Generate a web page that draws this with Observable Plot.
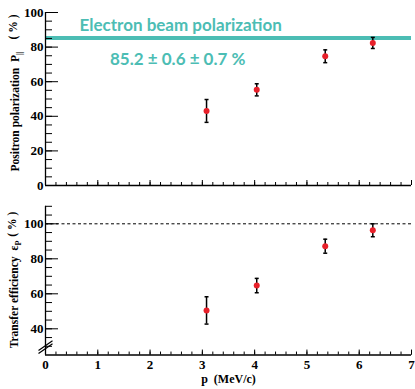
<!DOCTYPE html>
<html><head><meta charset="utf-8">
<script src="https://cdn.jsdelivr.net/npm/d3@7"></script>
<script src="https://cdn.jsdelivr.net/npm/@observablehq/plot@0.6"></script>
<style>
html,body{margin:0;padding:0;background:#fff;}
#chart{position:relative;width:415px;height:389px;overflow:hidden;}
#toppanel{position:absolute;left:0;top:0;}
#botpanel{position:absolute;left:0;top:190px;}
svg{overflow:visible;}
</style></head><body>
<div id="chart"><div id="toppanel"></div><div id="botpanel"></div></div>
<script>
// ---- data ----
const momentum = [3.08, 4.04, 5.35, 6.26];
const polarization = [43.1, 55.3, 74.7, 82.4];
const polarizationErr = [6.6, 3.5, 3.7, 3.2];
const efficiency = [50.5, 64.7, 87.2, 96.3];
const efficiencyErr = [7.8, 4.1, 4.0, 3.7];
const electronPol = 85.2, electronStat = 0.6, electronSys = 0.7;
const xTicks = [0, 1, 2, 3, 4, 5, 6, 7];
const xMinorTicks = d3.range(0, 71, 2).map(d => d / 10);
const topYTicks = [0, 20, 40, 60, 80, 100];
const topYMinor = d3.range(0, 101, 5);
const botYTicks = [40, 60, 80, 100];
const botYMinor = d3.range(30, 111, 5);
const fullTransfer = 100;
const breakAt = 29.5;
const xLabel = "p\u00a0\u00a0(MeV/c)";
const annoTitle = "Electron beam polarization";

// ---- style ----
const W = 415, ML = 45, MR = 4, plotW = W - ML - MR;
const serif = '"Liberation Serif","Times New Roman",serif';
const sans = 'Lato,"Open Sans",sans-serif';
const teal = "#4cbdb4";
const red = "#e8202a";

const capSymbol = {draw(ctx, size) {const w = Math.sqrt(size / Math.PI); ctx.moveTo(-w, 0); ctx.lineTo(w, 0);}};
const breakSymbol = {draw(ctx, size) {
  const w = Math.sqrt(size / Math.PI), h = w * 0.7, o = w * 0.22;
  ctx.moveTo(-w, h + o); ctx.lineTo(w, -h + o);
  ctx.moveTo(-w, h - o); ctx.lineTo(w, -h - o);
}};

function panel({height, mt, mb, yDomain, yMajor, yMinor, values, errors, showX, extraBefore, extraAfter}) {
  const plotH = height - mt - mb;
  const pts = momentum.map((x, i) => ({x, y: values[i], lo: values[i] - errors[i], hi: values[i] + errors[i]}));
  const svg = Plot.plot({
    width: W, height, marginLeft: ML, marginRight: MR, marginTop: mt, marginBottom: mb,
    style: {fontFamily: serif, fontSize: "13px", fontWeight: "bold", background: "transparent", color: "#000", overflow: "visible"},
    x: showX ? {domain: [0, 7], ticks: xTicks, tickFormat: d => String(d), tickSize: 0, tickPadding: 5, label: null}
             : {domain: [0, 7], axis: null},
    y: {domain: yDomain, ticks: yMajor, tickFormat: d => String(d), tickSize: 0, tickPadding: 2, label: null},
    marks: [
      ...extraBefore,
      Plot.tickY(yMinor, {y: d => d, insetRight: plotW - 7, stroke: "#000"}),
      Plot.tickY(yMajor, {y: d => d, insetRight: plotW - 13, stroke: "#000"}),
      Plot.tickX(xMinorTicks, {x: d => d, insetTop: plotH - 3, stroke: "#000"}),
      Plot.tickX(xTicks, {x: d => d, insetTop: plotH - 5, stroke: "#000"}),
      Plot.ruleX([0], {stroke: "#000", strokeWidth: 1.3}),
      Plot.ruleY([yDomain[0]], {stroke: "#000", strokeWidth: 1.5}),
      Plot.ruleX(pts, {x: "x", y1: "lo", y2: "hi", stroke: "#000", strokeWidth: 1.5}),
      Plot.dot(pts, {x: "x", y: "lo", symbol: capSymbol, r: 2, stroke: "#000", fill: "none", strokeWidth: 1.5}),
      Plot.dot(pts, {x: "x", y: "hi", symbol: capSymbol, r: 2, stroke: "#000", fill: "none", strokeWidth: 1.5}),
      Plot.dot(pts, {x: "x", y: "y", r: 3, fill: red, stroke: "none"}),
      ...extraAfter
    ]
  });
  // force serif bold on every text that is not a teal annotation
  d3.select(svg).selectAll("text").each(function() {
    const anno = this.closest('[font-family*="Lato"]') || (this.getAttribute("font-family") || "").includes("Lato");
    if (!anno) {
      this.style.setProperty("font-family", serif, "important");
      this.style.setProperty("font-weight", "bold", "important");
    }
  });
  return svg;
}

function yTitle(svg, cx, cy, main, sym, sub, gap) {
  const t = d3.select(svg).append("text")
    .attr("transform", `translate(${cx},${cy}) rotate(-90)`)
    .attr("text-anchor", "middle")
    .attr("font-family", serif).attr("font-weight", "bold").attr("font-size", 11.5).attr("fill", "#000");
  t.append("tspan").text(main);
  t.append("tspan").attr("dx", 6).text(sym);
  t.append("tspan").attr("dy", 3).attr("font-size", 8).text(sub);
  t.append("tspan").attr("dy", -5).attr("dx", gap).text("(\u00a0%\u00a0)");
}

const topChart = panel({
  height: 190, mt: 12, mb: 5, yDomain: [0, 100], yMajor: topYTicks, yMinor: topYMinor,
  values: polarization, errors: polarizationErr, showX: false,
  extraBefore: [Plot.ruleY([electronPol], {stroke: teal, strokeWidth: 4})],
  extraAfter: [
    Plot.text([annoTitle], {text: d => d, frameAnchor: "top-left", textAnchor: "start", lineAnchor: "top",
      dx: 34, dy: 6.2, fill: teal, fontFamily: sans, fontSize: 17, fontWeight: "bold"}),
    Plot.text([`${electronPol} \u00b1 ${electronStat} \u00b1 ${electronSys} %`], {text: d => d, frameAnchor: "top-left",
      textAnchor: "start", lineAnchor: "top", dx: 64.5, dy: 40.2, fill: teal, fontFamily: sans, fontSize: 17, fontWeight: "bold"})
  ]
});
yTitle(topChart, 19, 93, "Positron polarization", "P", "||", 12);
document.getElementById("toppanel").append(topChart);

const botChart = panel({
  height: 199, mt: 15.8, mb: 34.45, yDomain: [25, 110], yMajor: botYTicks, yMinor: botYMinor,
  values: efficiency, errors: efficiencyErr, showX: true,
  extraBefore: [Plot.ruleY([fullTransfer], {stroke: "#000", strokeWidth: 1, strokeDasharray: "3,2.5"})],
  extraAfter: [
    Plot.dot([breakAt], {x: d => 0, y: d => d, symbol: breakSymbol, r: 7, stroke: "#000", fill: "none", strokeWidth: 1.2}),
    Plot.text([xLabel], {text: d => d, frameAnchor: "bottom", dy: 27.6, fontSize: 12})
  ]
});
yTitle(botChart, 18, 280 - 190, "Transfer efficiency", "\u03b5", "P", 4);
document.getElementById("botpanel").append(botChart);
</script>
</body></html>
